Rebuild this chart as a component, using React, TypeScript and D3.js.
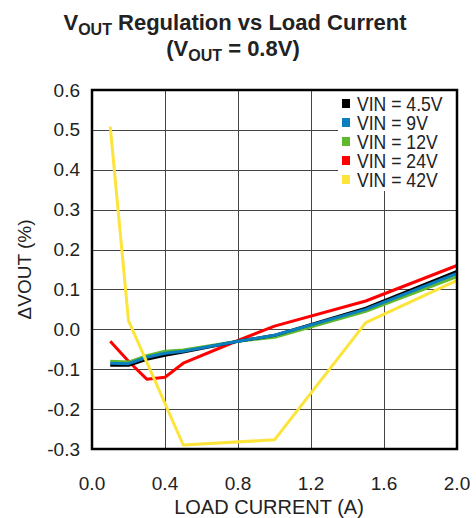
import React from "react";
import * as d3 from "d3";

const loads = [0.1, 0.2, 0.3, 0.4, 0.5, 0.8, 1.0, 1.5, 2.0];
const vin45 = [-0.09, -0.09, -0.075, -0.065, -0.057, -0.03, -0.015, 0.053, 0.145];
const vin9 = [-0.085, -0.086, -0.07, -0.06, -0.055, -0.03, -0.015, 0.05, 0.14];
const vin12 = [-0.08, -0.082, -0.066, -0.055, -0.052, -0.03, -0.02, 0.045, 0.132];
const vin24 = [-0.03, -0.08, -0.125, -0.12, -0.085, -0.028, 0.008, 0.071, 0.16];
const loads42 = [0.1, 0.2, 0.5, 1.0, 1.5, 2.0];
const vin42 = [0.508, 0.022, -0.29, -0.277, 0.017, 0.123];

const xTicks = [0, 0.4, 0.8, 1.2, 1.6, 2.0];
const yTicks = [0.6, 0.5, 0.4, 0.3, 0.2, 0.1, 0.0, -0.1, -0.2, -0.3];

const series = [
  { name: "VIN = 24V", color: "#ff0000", xs: loads, ys: vin24 },
  { name: "VIN = 12V", color: "#5fb92d", xs: loads, ys: vin12 },
  { name: "VIN = 4.5V", color: "#000000", xs: loads, ys: vin45 },
  { name: "VIN = 9V", color: "#0a7fc0", xs: loads, ys: vin9 },
  { name: "VIN = 42V", color: "#fde43a", xs: loads42, ys: vin42 },
];
const legendOrder = ["VIN = 4.5V", "VIN = 9V", "VIN = 12V", "VIN = 24V", "VIN = 42V"];

const W = 476;
const H = 518;
const margin = { left: 92, right: 19, top: 90, bottom: 69 };

export default function App() {
  const x = d3.scaleLinear().domain([0, 2]).range([margin.left, W - margin.right]);
  const y = d3.scaleLinear().domain([-0.3, 0.6]).range([H - margin.bottom, margin.top]);
  const line = d3
    .line<[number, number]>()
    .x((d) => x(d[0]))
    .y((d) => y(d[1]));

  const font = "'Liberation Sans', Arial, sans-serif";
  const textColor = "#222";

  const legX = 338;
  const legY = margin.top + 1;
  const rowH = 19;

  return (
    <svg
      width={W}
      height={H}
      style={{ position: "absolute", left: 0, top: 0, background: "#fff" }}
      fontFamily={font}
    >
      <text x={235} y={30} textAnchor="middle" fontSize={22} fontWeight="bold" fill={textColor}>
        V<tspan fontSize={16} dy={5}>OUT</tspan>
        <tspan dy={-5}> Regulation vs Load Current</tspan>
      </text>
      <text x={233} y={56} textAnchor="middle" fontSize={22} fontWeight="bold" fill={textColor}>
        (V<tspan fontSize={16} dy={5}>OUT</tspan>
        <tspan dy={-5}> = 0.8V)</tspan>
      </text>

      {/* grid */}
      <g stroke="#444" strokeWidth={1}>
        {xTicks.slice(1, -1).map((t) => (
          <line key={"gx" + t} x1={Math.round(x(t)) + 0.5} x2={Math.round(x(t)) + 0.5} y1={y(0.6)} y2={y(-0.3)} />
        ))}
        {yTicks.slice(1, -1).map((t) => (
          <line key={"gy" + t} x1={x(0)} x2={x(2)} y1={Math.round(y(t)) + 0.5} y2={Math.round(y(t)) + 0.5} />
        ))}
      </g>

      {/* legend background */}
      <rect x={legX} y={legY} width={x(2) - legX - 1} height={100} fill="#fff" />

      {/* series */}
      <g fill="none" strokeWidth={3} strokeLinejoin="round">
        {series.map((s) => (
          <path
            key={s.name}
            d={line(s.xs.map((v, i) => [v, s.ys[i]] as [number, number])) || ""}
            stroke={s.color}
          />
        ))}
      </g>

      {/* frame */}
      <rect
        x={x(0)}
        y={y(0.6)}
        width={x(2) - x(0)}
        height={y(-0.3) - y(0.6)}
        fill="none"
        stroke="#000"
        strokeWidth={2.5}
      />

      {/* legend */}
      {legendOrder.map((n, i) => {
        const s = series.find((d) => d.name === n)!;
        const cy = legY + 12 + i * rowH;
        return (
          <g key={n}>
            <rect x={legX + 4} y={cy - 4} width={8} height={9} fill={s.color} />
            <text
              transform={`translate(${legX + 19}, ${cy + 7.5}) scale(0.88, 1)`}
              fontSize={20}
              fill={textColor}
            >
              {n}
            </text>
          </g>
        );
      })}

      {/* y ticks */}
      {yTicks.map((t) => (
        <text key={"ty" + t} x={80} y={y(t) + 6.5} textAnchor="end" fontSize={19} fill={textColor}>
          {t.toFixed(1)}
        </text>
      ))}
      {/* x ticks */}
      {xTicks.map((t) => (
        <text key={"tx" + t} x={x(t)} y={490} textAnchor="middle" fontSize={19} fill={textColor}>
          {t.toFixed(1)}
        </text>
      ))}

      <text x={269} y={514} textAnchor="middle" fontSize={20} fill={textColor}>
        LOAD CURRENT (A)
      </text>
      <text
        transform={`translate(31, ${y(0.15)}) rotate(-90)`}
        textAnchor="middle"
        fontSize={19}
        fill={textColor}
      >
        ΔVOUT (%)
      </text>
    </svg>
  );
}
